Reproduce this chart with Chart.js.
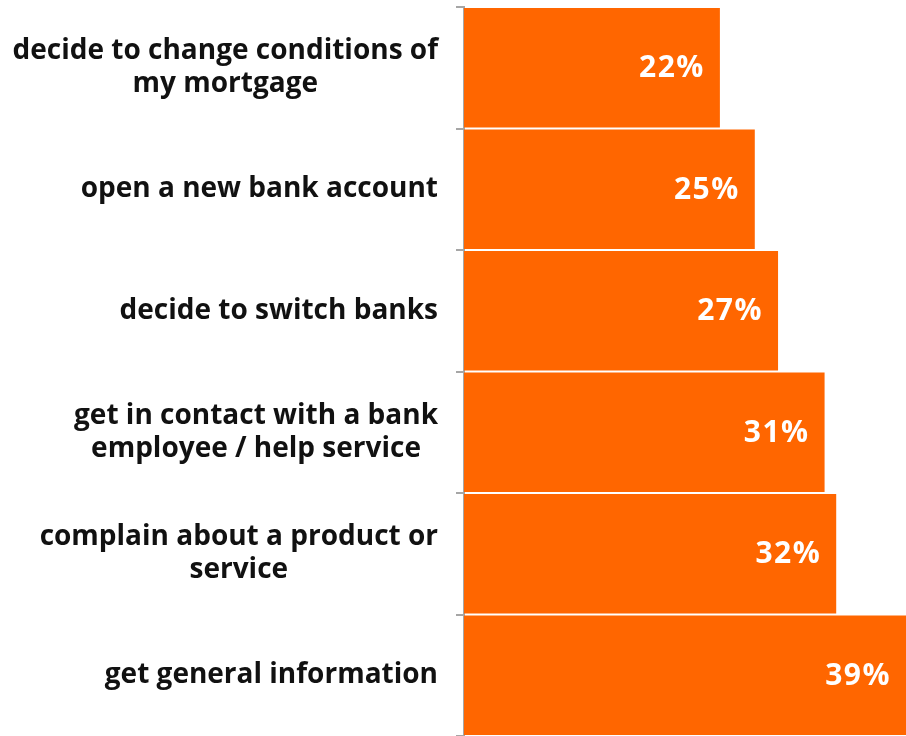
<!DOCTYPE html>
<html lang="en">
  <head>
    <meta charset="utf-8">
    <title>Reasons to contact the bank</title>
    <style>
      html, body { margin: 0; padding: 0; background: #fff; overflow: hidden; }
      #chart { width: 906px; height: 736px; }
    </style>
  </head>
  <script src="https://cdn.jsdelivr.net/npm/chart.js@4"></script>
  <body>
    <div id="chart">
      <canvas id="chartCanvas"></canvas>
    </div>
    <script>
      // categories, one entry per line of the label
      const reasons = [
        ['decide to change conditions of', 'my mortgage'],
        ['open a new bank account'],
        ['decide to switch banks'],
        ['get in contact with a bank', 'employee / help service'],
        ['complain about a product or', 'service'],
        ['get general information']
      ];
      const shares = [22, 25, 27, 31, 32, 39];

      const ORANGE = '#ff6600';
      const AXIS_GREY = '#a6a6a6';
      const FONT = '"Open Sans", "Noto Sans", sans-serif';

      // category names: right-aligned block, lines centred inside it
      const categoryLabels = {
        id: 'categoryLabels',
        afterDraw(chart) {
          const ctx = chart.ctx;
          const y = chart.scales.y;
          const right = y.right - 26;
          const lineH = 33;
          ctx.save();
          ctx.font = 'bold 28px ' + FONT;
          ctx.fillStyle = '#111';
          ctx.textAlign = 'center';
          ctx.textBaseline = 'middle';
          reasons.forEach((lines, i) => {
            const cy = y.getPixelForValue(i);
            const w = Math.max(...lines.map(l => ctx.measureText(l).width));
            const cx = right - w / 2;
            const top = cy - (lines.length - 1) * lineH / 2;
            lines.forEach((l, j) => ctx.fillText(l, cx, top + j * lineH));
          });
          ctx.restore();
        }
      };

      // percentage inside the end of each bar
      const valueLabels = {
        id: 'valueLabels',
        afterDatasetsDraw(chart) {
          const ctx = chart.ctx;
          const area = chart.chartArea;
          ctx.save();
          ctx.font = 'bold 30px ' + FONT;
          ctx.letterSpacing = '1.5px';
          ctx.fillStyle = '#fff';
          ctx.textAlign = 'right';
          ctx.textBaseline = 'middle';
          chart.getDatasetMeta(0).data.forEach((bar, i) => {
            const end = Math.min(bar.x, area.right);
            ctx.fillText(shares[i] + '%', end - 15, bar.y + 1);
          });
          ctx.restore();
        }
      };

      const ctx = document.getElementById('chartCanvas');

      const chart = new Chart(ctx, {
        type: 'bar',
        data: {
          labels: reasons,
          datasets: [{
            data: shares,
            backgroundColor: ORANGE,
            borderWidth: 0,
            barPercentage: 0.984,
            categoryPercentage: 1
          }]
        },
        options: {
          indexAxis: 'y',
          responsive: true,
          maintainAspectRatio: false,
          animation: false,
          layout: { padding: { top: 7, right: 0, bottom: 0, left: 0 } },
          plugins: {
            legend: { display: false },
            tooltip: { enabled: false }
          },
          scales: {
            x: {
              display: false,
              min: 0,
              max: 38
            },
            y: {
              afterFit(scale) { scale.width = 464; },
              border: { display: true, color: AXIS_GREY, width: 2 },
              grid: {
                drawOnChartArea: false,
                drawTicks: true,
                tickLength: 8,
                color: AXIS_GREY,
                lineWidth: 2
              },
              ticks: { display: false }
            }
          }
        },
        plugins: [categoryLabels, valueLabels]
      });
    </script>
  </body>
</html>
